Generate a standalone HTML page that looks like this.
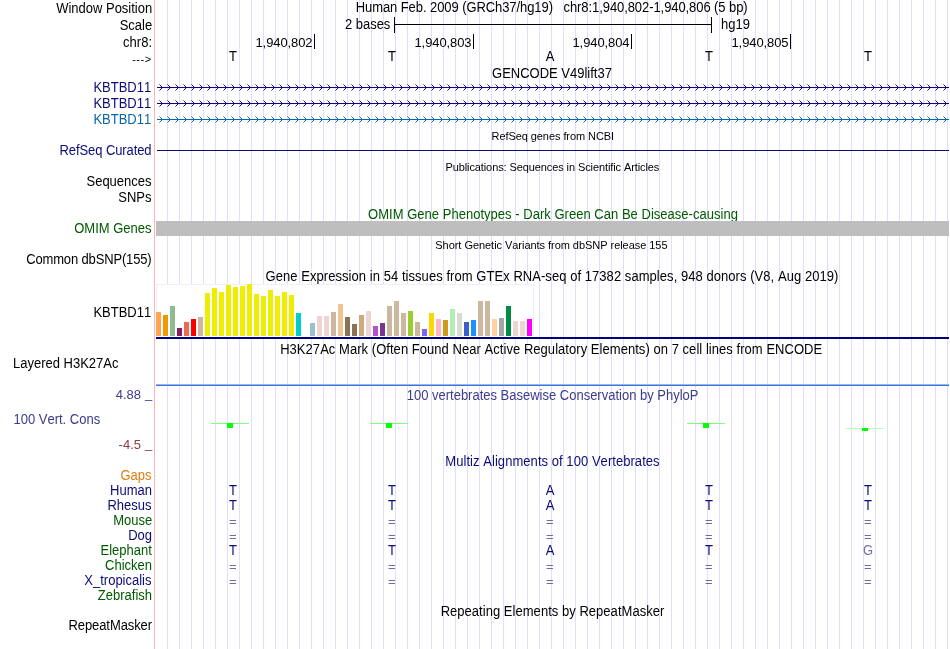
<!DOCTYPE html>
<html><head><meta charset="utf-8"><title>UCSC Genome Browser chr8:1,940,802-1,940,806</title>
<style>html,body{margin:0;padding:0;background:#fff;overflow:hidden}svg{display:block;font-kerning:none;font-family:'Liberation Sans', sans-serif}</style>
</head><body>
<svg width="950" height="649" viewBox="0 0 950 649">
<rect width="950" height="649" fill="#fff"/>
<g shape-rendering="crispEdges">
<rect x="167" y="0" width="1" height="649" fill="#dedeff"/>
<rect x="179" y="0" width="1" height="649" fill="#dedeff"/>
<rect x="191" y="0" width="1" height="649" fill="#dedeff"/>
<rect x="203" y="0" width="1" height="649" fill="#dedeff"/>
<rect x="215" y="0" width="1" height="649" fill="#dedeff"/>
<rect x="227" y="0" width="1" height="649" fill="#dedeff"/>
<rect x="239" y="0" width="1" height="649" fill="#dedeff"/>
<rect x="251" y="0" width="1" height="649" fill="#dedeff"/>
<rect x="263" y="0" width="1" height="649" fill="#dedeff"/>
<rect x="275" y="0" width="1" height="649" fill="#dedeff"/>
<rect x="287" y="0" width="1" height="649" fill="#dedeff"/>
<rect x="299" y="0" width="1" height="649" fill="#dedeff"/>
<rect x="311" y="0" width="1" height="649" fill="#dedeff"/>
<rect x="323" y="0" width="1" height="649" fill="#dedeff"/>
<rect x="335" y="0" width="1" height="649" fill="#dedeff"/>
<rect x="347" y="0" width="1" height="649" fill="#dedeff"/>
<rect x="359" y="0" width="1" height="649" fill="#dedeff"/>
<rect x="371" y="0" width="1" height="649" fill="#dedeff"/>
<rect x="383" y="0" width="1" height="649" fill="#dedeff"/>
<rect x="395" y="0" width="1" height="649" fill="#dedeff"/>
<rect x="407" y="0" width="1" height="649" fill="#dedeff"/>
<rect x="419" y="0" width="1" height="649" fill="#dedeff"/>
<rect x="431" y="0" width="1" height="649" fill="#dedeff"/>
<rect x="443" y="0" width="1" height="649" fill="#dedeff"/>
<rect x="455" y="0" width="1" height="649" fill="#dedeff"/>
<rect x="467" y="0" width="1" height="649" fill="#dedeff"/>
<rect x="479" y="0" width="1" height="649" fill="#dedeff"/>
<rect x="491" y="0" width="1" height="649" fill="#dedeff"/>
<rect x="503" y="0" width="1" height="649" fill="#dedeff"/>
<rect x="515" y="0" width="1" height="649" fill="#dedeff"/>
<rect x="527" y="0" width="1" height="649" fill="#dedeff"/>
<rect x="539" y="0" width="1" height="649" fill="#dedeff"/>
<rect x="551" y="0" width="1" height="649" fill="#dedeff"/>
<rect x="563" y="0" width="1" height="649" fill="#dedeff"/>
<rect x="575" y="0" width="1" height="649" fill="#dedeff"/>
<rect x="587" y="0" width="1" height="649" fill="#dedeff"/>
<rect x="599" y="0" width="1" height="649" fill="#dedeff"/>
<rect x="611" y="0" width="1" height="649" fill="#dedeff"/>
<rect x="623" y="0" width="1" height="649" fill="#dedeff"/>
<rect x="635" y="0" width="1" height="649" fill="#dedeff"/>
<rect x="647" y="0" width="1" height="649" fill="#dedeff"/>
<rect x="659" y="0" width="1" height="649" fill="#dedeff"/>
<rect x="671" y="0" width="1" height="649" fill="#dedeff"/>
<rect x="683" y="0" width="1" height="649" fill="#dedeff"/>
<rect x="695" y="0" width="1" height="649" fill="#dedeff"/>
<rect x="707" y="0" width="1" height="649" fill="#dedeff"/>
<rect x="719" y="0" width="1" height="649" fill="#dedeff"/>
<rect x="731" y="0" width="1" height="649" fill="#dedeff"/>
<rect x="743" y="0" width="1" height="649" fill="#dedeff"/>
<rect x="755" y="0" width="1" height="649" fill="#dedeff"/>
<rect x="767" y="0" width="1" height="649" fill="#dedeff"/>
<rect x="779" y="0" width="1" height="649" fill="#dedeff"/>
<rect x="791" y="0" width="1" height="649" fill="#dedeff"/>
<rect x="803" y="0" width="1" height="649" fill="#dedeff"/>
<rect x="815" y="0" width="1" height="649" fill="#dedeff"/>
<rect x="827" y="0" width="1" height="649" fill="#dedeff"/>
<rect x="839" y="0" width="1" height="649" fill="#dedeff"/>
<rect x="851" y="0" width="1" height="649" fill="#dedeff"/>
<rect x="863" y="0" width="1" height="649" fill="#dedeff"/>
<rect x="875" y="0" width="1" height="649" fill="#dedeff"/>
<rect x="887" y="0" width="1" height="649" fill="#dedeff"/>
<rect x="899" y="0" width="1" height="649" fill="#dedeff"/>
<rect x="911" y="0" width="1" height="649" fill="#dedeff"/>
<rect x="923" y="0" width="1" height="649" fill="#dedeff"/>
<rect x="935" y="0" width="1" height="649" fill="#dedeff"/>
<rect x="947" y="0" width="1" height="649" fill="#dedeff"/>
<rect x="154" y="0" width="1" height="649" fill="#ffb4b4"/>
</g>
<text transform="translate(152.2 13) scale(1 1.07)" font-size="13" text-anchor="end" fill="#000">Window Position</text>
<text transform="translate(152.2 29.5) scale(1 1.07)" font-size="13" text-anchor="end" fill="#000">Scale</text>
<text transform="translate(152 47) scale(1 1.07)" font-size="13" text-anchor="end" fill="#000">chr8:</text>
<text transform="translate(151.6 62.9) scale(1 1.0)" font-size="11" text-anchor="end" fill="#000" letter-spacing="0.500">---&gt;</text>
<text transform="translate(355.7 11.5) scale(1 1.07)" font-size="13" text-anchor="start" fill="#000" style="white-space:pre" textLength="392">Human Feb. 2009 (GRCh37/hg19)   chr8:1,940,802-1,940,806 (5 bp)</text>
<text transform="translate(390.3 29) scale(1 1.07)" font-size="13" text-anchor="end" fill="#000" letter-spacing="-0.043">2 bases</text>
<text transform="translate(721 29) scale(1 1.07)" font-size="13" text-anchor="start" fill="#000">hg19</text>
<g shape-rendering="crispEdges" fill="#000">
<rect x="394" y="24" width="318" height="1" fill="#000"/>
<rect x="394" y="17" width="1" height="16" fill="#000"/>
<rect x="711" y="17" width="1" height="16" fill="#000"/>
<rect x="314" y="34" width="1" height="15" fill="#000"/>
<rect x="473" y="34" width="1" height="15" fill="#000"/>
<rect x="631" y="34" width="1" height="15" fill="#000"/>
<rect x="790" y="34" width="1" height="15" fill="#000"/>
</g>
<text transform="translate(312.5 47.3) scale(1 0.95)" font-size="13" text-anchor="end" fill="#000" letter-spacing="-0.078">1,940,802</text>
<text transform="translate(471.5 47.3) scale(1 0.95)" font-size="13" text-anchor="end" fill="#000" letter-spacing="-0.078">1,940,803</text>
<text transform="translate(629.5 47.3) scale(1 0.95)" font-size="13" text-anchor="end" fill="#000" letter-spacing="-0.078">1,940,804</text>
<text transform="translate(788.5 47.3) scale(1 0.95)" font-size="13" text-anchor="end" fill="#000" letter-spacing="-0.078">1,940,805</text>
<text transform="translate(233 61) scale(1 1.07)" font-size="13" text-anchor="middle" fill="#000">T</text>
<text transform="translate(392 61) scale(1 1.07)" font-size="13" text-anchor="middle" fill="#000">T</text>
<text transform="translate(550 61) scale(1 1.07)" font-size="13" text-anchor="middle" fill="#000">A</text>
<text transform="translate(709 61) scale(1 1.07)" font-size="13" text-anchor="middle" fill="#000">T</text>
<text transform="translate(868 61) scale(1 1.07)" font-size="13" text-anchor="middle" fill="#000">T</text>
<text transform="translate(552 77.7) scale(1 1.07)" font-size="13" text-anchor="middle" fill="#000">GENCODE V49lift37</text>
<text transform="translate(151.2 92) scale(1 1.07)" font-size="13" text-anchor="end" fill="#0c0c78">KBTBD11</text>
<g stroke="#0c0c78" fill="none" stroke-width="1">
<path d="M157 87.5H949" shape-rendering="crispEdges"/>
<path d="M159.5 84.5L162.5 87.5L159.5 90.5M167.5 84.5L170.5 87.5L167.5 90.5M175.5 84.5L178.5 87.5L175.5 90.5M183.5 84.5L186.5 87.5L183.5 90.5M191.5 84.5L194.5 87.5L191.5 90.5M199.5 84.5L202.5 87.5L199.5 90.5M207.5 84.5L210.5 87.5L207.5 90.5M215.5 84.5L218.5 87.5L215.5 90.5M223.5 84.5L226.5 87.5L223.5 90.5M231.5 84.5L234.5 87.5L231.5 90.5M239.5 84.5L242.5 87.5L239.5 90.5M247.5 84.5L250.5 87.5L247.5 90.5M255.5 84.5L258.5 87.5L255.5 90.5M263.5 84.5L266.5 87.5L263.5 90.5M271.5 84.5L274.5 87.5L271.5 90.5M279.5 84.5L282.5 87.5L279.5 90.5M287.5 84.5L290.5 87.5L287.5 90.5M295.5 84.5L298.5 87.5L295.5 90.5M303.5 84.5L306.5 87.5L303.5 90.5M311.5 84.5L314.5 87.5L311.5 90.5M319.5 84.5L322.5 87.5L319.5 90.5M327.5 84.5L330.5 87.5L327.5 90.5M335.5 84.5L338.5 87.5L335.5 90.5M343.5 84.5L346.5 87.5L343.5 90.5M351.5 84.5L354.5 87.5L351.5 90.5M359.5 84.5L362.5 87.5L359.5 90.5M367.5 84.5L370.5 87.5L367.5 90.5M375.5 84.5L378.5 87.5L375.5 90.5M383.5 84.5L386.5 87.5L383.5 90.5M391.5 84.5L394.5 87.5L391.5 90.5M399.5 84.5L402.5 87.5L399.5 90.5M407.5 84.5L410.5 87.5L407.5 90.5M415.5 84.5L418.5 87.5L415.5 90.5M423.5 84.5L426.5 87.5L423.5 90.5M431.5 84.5L434.5 87.5L431.5 90.5M439.5 84.5L442.5 87.5L439.5 90.5M447.5 84.5L450.5 87.5L447.5 90.5M455.5 84.5L458.5 87.5L455.5 90.5M463.5 84.5L466.5 87.5L463.5 90.5M471.5 84.5L474.5 87.5L471.5 90.5M479.5 84.5L482.5 87.5L479.5 90.5M487.5 84.5L490.5 87.5L487.5 90.5M495.5 84.5L498.5 87.5L495.5 90.5M503.5 84.5L506.5 87.5L503.5 90.5M511.5 84.5L514.5 87.5L511.5 90.5M519.5 84.5L522.5 87.5L519.5 90.5M527.5 84.5L530.5 87.5L527.5 90.5M535.5 84.5L538.5 87.5L535.5 90.5M543.5 84.5L546.5 87.5L543.5 90.5M551.5 84.5L554.5 87.5L551.5 90.5M559.5 84.5L562.5 87.5L559.5 90.5M567.5 84.5L570.5 87.5L567.5 90.5M575.5 84.5L578.5 87.5L575.5 90.5M583.5 84.5L586.5 87.5L583.5 90.5M591.5 84.5L594.5 87.5L591.5 90.5M599.5 84.5L602.5 87.5L599.5 90.5M607.5 84.5L610.5 87.5L607.5 90.5M615.5 84.5L618.5 87.5L615.5 90.5M623.5 84.5L626.5 87.5L623.5 90.5M631.5 84.5L634.5 87.5L631.5 90.5M639.5 84.5L642.5 87.5L639.5 90.5M647.5 84.5L650.5 87.5L647.5 90.5M655.5 84.5L658.5 87.5L655.5 90.5M663.5 84.5L666.5 87.5L663.5 90.5M671.5 84.5L674.5 87.5L671.5 90.5M679.5 84.5L682.5 87.5L679.5 90.5M687.5 84.5L690.5 87.5L687.5 90.5M695.5 84.5L698.5 87.5L695.5 90.5M703.5 84.5L706.5 87.5L703.5 90.5M711.5 84.5L714.5 87.5L711.5 90.5M719.5 84.5L722.5 87.5L719.5 90.5M727.5 84.5L730.5 87.5L727.5 90.5M735.5 84.5L738.5 87.5L735.5 90.5M743.5 84.5L746.5 87.5L743.5 90.5M751.5 84.5L754.5 87.5L751.5 90.5M759.5 84.5L762.5 87.5L759.5 90.5M767.5 84.5L770.5 87.5L767.5 90.5M775.5 84.5L778.5 87.5L775.5 90.5M783.5 84.5L786.5 87.5L783.5 90.5M791.5 84.5L794.5 87.5L791.5 90.5M799.5 84.5L802.5 87.5L799.5 90.5M807.5 84.5L810.5 87.5L807.5 90.5M815.5 84.5L818.5 87.5L815.5 90.5M823.5 84.5L826.5 87.5L823.5 90.5M831.5 84.5L834.5 87.5L831.5 90.5M839.5 84.5L842.5 87.5L839.5 90.5M847.5 84.5L850.5 87.5L847.5 90.5M855.5 84.5L858.5 87.5L855.5 90.5M863.5 84.5L866.5 87.5L863.5 90.5M871.5 84.5L874.5 87.5L871.5 90.5M879.5 84.5L882.5 87.5L879.5 90.5M887.5 84.5L890.5 87.5L887.5 90.5M895.5 84.5L898.5 87.5L895.5 90.5M903.5 84.5L906.5 87.5L903.5 90.5M911.5 84.5L914.5 87.5L911.5 90.5M919.5 84.5L922.5 87.5L919.5 90.5M927.5 84.5L930.5 87.5L927.5 90.5M935.5 84.5L938.5 87.5L935.5 90.5M943.5 84.5L946.5 87.5L943.5 90.5"/>
</g>
<text transform="translate(151.2 108) scale(1 1.07)" font-size="13" text-anchor="end" fill="#0c0c78">KBTBD11</text>
<g stroke="#0c0c78" fill="none" stroke-width="1">
<path d="M157 103.5H949" shape-rendering="crispEdges"/>
<path d="M159.5 100.5L162.5 103.5L159.5 106.5M167.5 100.5L170.5 103.5L167.5 106.5M175.5 100.5L178.5 103.5L175.5 106.5M183.5 100.5L186.5 103.5L183.5 106.5M191.5 100.5L194.5 103.5L191.5 106.5M199.5 100.5L202.5 103.5L199.5 106.5M207.5 100.5L210.5 103.5L207.5 106.5M215.5 100.5L218.5 103.5L215.5 106.5M223.5 100.5L226.5 103.5L223.5 106.5M231.5 100.5L234.5 103.5L231.5 106.5M239.5 100.5L242.5 103.5L239.5 106.5M247.5 100.5L250.5 103.5L247.5 106.5M255.5 100.5L258.5 103.5L255.5 106.5M263.5 100.5L266.5 103.5L263.5 106.5M271.5 100.5L274.5 103.5L271.5 106.5M279.5 100.5L282.5 103.5L279.5 106.5M287.5 100.5L290.5 103.5L287.5 106.5M295.5 100.5L298.5 103.5L295.5 106.5M303.5 100.5L306.5 103.5L303.5 106.5M311.5 100.5L314.5 103.5L311.5 106.5M319.5 100.5L322.5 103.5L319.5 106.5M327.5 100.5L330.5 103.5L327.5 106.5M335.5 100.5L338.5 103.5L335.5 106.5M343.5 100.5L346.5 103.5L343.5 106.5M351.5 100.5L354.5 103.5L351.5 106.5M359.5 100.5L362.5 103.5L359.5 106.5M367.5 100.5L370.5 103.5L367.5 106.5M375.5 100.5L378.5 103.5L375.5 106.5M383.5 100.5L386.5 103.5L383.5 106.5M391.5 100.5L394.5 103.5L391.5 106.5M399.5 100.5L402.5 103.5L399.5 106.5M407.5 100.5L410.5 103.5L407.5 106.5M415.5 100.5L418.5 103.5L415.5 106.5M423.5 100.5L426.5 103.5L423.5 106.5M431.5 100.5L434.5 103.5L431.5 106.5M439.5 100.5L442.5 103.5L439.5 106.5M447.5 100.5L450.5 103.5L447.5 106.5M455.5 100.5L458.5 103.5L455.5 106.5M463.5 100.5L466.5 103.5L463.5 106.5M471.5 100.5L474.5 103.5L471.5 106.5M479.5 100.5L482.5 103.5L479.5 106.5M487.5 100.5L490.5 103.5L487.5 106.5M495.5 100.5L498.5 103.5L495.5 106.5M503.5 100.5L506.5 103.5L503.5 106.5M511.5 100.5L514.5 103.5L511.5 106.5M519.5 100.5L522.5 103.5L519.5 106.5M527.5 100.5L530.5 103.5L527.5 106.5M535.5 100.5L538.5 103.5L535.5 106.5M543.5 100.5L546.5 103.5L543.5 106.5M551.5 100.5L554.5 103.5L551.5 106.5M559.5 100.5L562.5 103.5L559.5 106.5M567.5 100.5L570.5 103.5L567.5 106.5M575.5 100.5L578.5 103.5L575.5 106.5M583.5 100.5L586.5 103.5L583.5 106.5M591.5 100.5L594.5 103.5L591.5 106.5M599.5 100.5L602.5 103.5L599.5 106.5M607.5 100.5L610.5 103.5L607.5 106.5M615.5 100.5L618.5 103.5L615.5 106.5M623.5 100.5L626.5 103.5L623.5 106.5M631.5 100.5L634.5 103.5L631.5 106.5M639.5 100.5L642.5 103.5L639.5 106.5M647.5 100.5L650.5 103.5L647.5 106.5M655.5 100.5L658.5 103.5L655.5 106.5M663.5 100.5L666.5 103.5L663.5 106.5M671.5 100.5L674.5 103.5L671.5 106.5M679.5 100.5L682.5 103.5L679.5 106.5M687.5 100.5L690.5 103.5L687.5 106.5M695.5 100.5L698.5 103.5L695.5 106.5M703.5 100.5L706.5 103.5L703.5 106.5M711.5 100.5L714.5 103.5L711.5 106.5M719.5 100.5L722.5 103.5L719.5 106.5M727.5 100.5L730.5 103.5L727.5 106.5M735.5 100.5L738.5 103.5L735.5 106.5M743.5 100.5L746.5 103.5L743.5 106.5M751.5 100.5L754.5 103.5L751.5 106.5M759.5 100.5L762.5 103.5L759.5 106.5M767.5 100.5L770.5 103.5L767.5 106.5M775.5 100.5L778.5 103.5L775.5 106.5M783.5 100.5L786.5 103.5L783.5 106.5M791.5 100.5L794.5 103.5L791.5 106.5M799.5 100.5L802.5 103.5L799.5 106.5M807.5 100.5L810.5 103.5L807.5 106.5M815.5 100.5L818.5 103.5L815.5 106.5M823.5 100.5L826.5 103.5L823.5 106.5M831.5 100.5L834.5 103.5L831.5 106.5M839.5 100.5L842.5 103.5L839.5 106.5M847.5 100.5L850.5 103.5L847.5 106.5M855.5 100.5L858.5 103.5L855.5 106.5M863.5 100.5L866.5 103.5L863.5 106.5M871.5 100.5L874.5 103.5L871.5 106.5M879.5 100.5L882.5 103.5L879.5 106.5M887.5 100.5L890.5 103.5L887.5 106.5M895.5 100.5L898.5 103.5L895.5 106.5M903.5 100.5L906.5 103.5L903.5 106.5M911.5 100.5L914.5 103.5L911.5 106.5M919.5 100.5L922.5 103.5L919.5 106.5M927.5 100.5L930.5 103.5L927.5 106.5M935.5 100.5L938.5 103.5L935.5 106.5M943.5 100.5L946.5 103.5L943.5 106.5"/>
</g>
<text transform="translate(151.2 124) scale(1 1.07)" font-size="13" text-anchor="end" fill="#0a64aa">KBTBD11</text>
<g stroke="#0a64aa" fill="none" stroke-width="1">
<path d="M157 119.5H949" shape-rendering="crispEdges"/>
<path d="M159.5 116.5L162.5 119.5L159.5 122.5M167.5 116.5L170.5 119.5L167.5 122.5M175.5 116.5L178.5 119.5L175.5 122.5M183.5 116.5L186.5 119.5L183.5 122.5M191.5 116.5L194.5 119.5L191.5 122.5M199.5 116.5L202.5 119.5L199.5 122.5M207.5 116.5L210.5 119.5L207.5 122.5M215.5 116.5L218.5 119.5L215.5 122.5M223.5 116.5L226.5 119.5L223.5 122.5M231.5 116.5L234.5 119.5L231.5 122.5M239.5 116.5L242.5 119.5L239.5 122.5M247.5 116.5L250.5 119.5L247.5 122.5M255.5 116.5L258.5 119.5L255.5 122.5M263.5 116.5L266.5 119.5L263.5 122.5M271.5 116.5L274.5 119.5L271.5 122.5M279.5 116.5L282.5 119.5L279.5 122.5M287.5 116.5L290.5 119.5L287.5 122.5M295.5 116.5L298.5 119.5L295.5 122.5M303.5 116.5L306.5 119.5L303.5 122.5M311.5 116.5L314.5 119.5L311.5 122.5M319.5 116.5L322.5 119.5L319.5 122.5M327.5 116.5L330.5 119.5L327.5 122.5M335.5 116.5L338.5 119.5L335.5 122.5M343.5 116.5L346.5 119.5L343.5 122.5M351.5 116.5L354.5 119.5L351.5 122.5M359.5 116.5L362.5 119.5L359.5 122.5M367.5 116.5L370.5 119.5L367.5 122.5M375.5 116.5L378.5 119.5L375.5 122.5M383.5 116.5L386.5 119.5L383.5 122.5M391.5 116.5L394.5 119.5L391.5 122.5M399.5 116.5L402.5 119.5L399.5 122.5M407.5 116.5L410.5 119.5L407.5 122.5M415.5 116.5L418.5 119.5L415.5 122.5M423.5 116.5L426.5 119.5L423.5 122.5M431.5 116.5L434.5 119.5L431.5 122.5M439.5 116.5L442.5 119.5L439.5 122.5M447.5 116.5L450.5 119.5L447.5 122.5M455.5 116.5L458.5 119.5L455.5 122.5M463.5 116.5L466.5 119.5L463.5 122.5M471.5 116.5L474.5 119.5L471.5 122.5M479.5 116.5L482.5 119.5L479.5 122.5M487.5 116.5L490.5 119.5L487.5 122.5M495.5 116.5L498.5 119.5L495.5 122.5M503.5 116.5L506.5 119.5L503.5 122.5M511.5 116.5L514.5 119.5L511.5 122.5M519.5 116.5L522.5 119.5L519.5 122.5M527.5 116.5L530.5 119.5L527.5 122.5M535.5 116.5L538.5 119.5L535.5 122.5M543.5 116.5L546.5 119.5L543.5 122.5M551.5 116.5L554.5 119.5L551.5 122.5M559.5 116.5L562.5 119.5L559.5 122.5M567.5 116.5L570.5 119.5L567.5 122.5M575.5 116.5L578.5 119.5L575.5 122.5M583.5 116.5L586.5 119.5L583.5 122.5M591.5 116.5L594.5 119.5L591.5 122.5M599.5 116.5L602.5 119.5L599.5 122.5M607.5 116.5L610.5 119.5L607.5 122.5M615.5 116.5L618.5 119.5L615.5 122.5M623.5 116.5L626.5 119.5L623.5 122.5M631.5 116.5L634.5 119.5L631.5 122.5M639.5 116.5L642.5 119.5L639.5 122.5M647.5 116.5L650.5 119.5L647.5 122.5M655.5 116.5L658.5 119.5L655.5 122.5M663.5 116.5L666.5 119.5L663.5 122.5M671.5 116.5L674.5 119.5L671.5 122.5M679.5 116.5L682.5 119.5L679.5 122.5M687.5 116.5L690.5 119.5L687.5 122.5M695.5 116.5L698.5 119.5L695.5 122.5M703.5 116.5L706.5 119.5L703.5 122.5M711.5 116.5L714.5 119.5L711.5 122.5M719.5 116.5L722.5 119.5L719.5 122.5M727.5 116.5L730.5 119.5L727.5 122.5M735.5 116.5L738.5 119.5L735.5 122.5M743.5 116.5L746.5 119.5L743.5 122.5M751.5 116.5L754.5 119.5L751.5 122.5M759.5 116.5L762.5 119.5L759.5 122.5M767.5 116.5L770.5 119.5L767.5 122.5M775.5 116.5L778.5 119.5L775.5 122.5M783.5 116.5L786.5 119.5L783.5 122.5M791.5 116.5L794.5 119.5L791.5 122.5M799.5 116.5L802.5 119.5L799.5 122.5M807.5 116.5L810.5 119.5L807.5 122.5M815.5 116.5L818.5 119.5L815.5 122.5M823.5 116.5L826.5 119.5L823.5 122.5M831.5 116.5L834.5 119.5L831.5 122.5M839.5 116.5L842.5 119.5L839.5 122.5M847.5 116.5L850.5 119.5L847.5 122.5M855.5 116.5L858.5 119.5L855.5 122.5M863.5 116.5L866.5 119.5L863.5 122.5M871.5 116.5L874.5 119.5L871.5 122.5M879.5 116.5L882.5 119.5L879.5 122.5M887.5 116.5L890.5 119.5L887.5 122.5M895.5 116.5L898.5 119.5L895.5 122.5M903.5 116.5L906.5 119.5L903.5 122.5M911.5 116.5L914.5 119.5L911.5 122.5M919.5 116.5L922.5 119.5L919.5 122.5M927.5 116.5L930.5 119.5L927.5 122.5M935.5 116.5L938.5 119.5L935.5 122.5M943.5 116.5L946.5 119.5L943.5 122.5"/>
</g>
<text transform="translate(552.8 140) scale(1 1.07)" font-size="11" text-anchor="middle" fill="#000" letter-spacing="-0.064">RefSeq genes from NCBI</text>
<text transform="translate(151.5 155) scale(1 1.07)" font-size="13" text-anchor="end" fill="#0c0c78" letter-spacing="-0.086">RefSeq Curated</text>
<rect x="157" y="150" width="792" height="1" fill="#0c0c78" shape-rendering="crispEdges"/>
<text transform="translate(552.3 171) scale(1 1.07)" font-size="11" text-anchor="middle" fill="#000" letter-spacing="-0.091">Publications: Sequences in Scientific Articles</text>
<text transform="translate(151.5 186) scale(1 1.07)" font-size="13" text-anchor="end" fill="#000">Sequences</text>
<text transform="translate(151.5 202) scale(1 1.07)" font-size="13" text-anchor="end" fill="#000">SNPs</text>
<text transform="translate(553 219) scale(1 1.07)" font-size="13" text-anchor="middle" fill="#005a00" letter-spacing="0.030">OMIM Gene Phenotypes - Dark Green Can Be Disease-causing</text>
<text transform="translate(151.5 233) scale(1 1.07)" font-size="13" text-anchor="end" fill="#005a00">OMIM Genes</text>
<rect x="156" y="221" width="793" height="15" fill="#bebebe" shape-rendering="crispEdges"/>
<text transform="translate(551.4 249) scale(1 1.07)" font-size="11" text-anchor="middle" fill="#000" letter-spacing="-0.036">Short Genetic Variants from dbSNP release 155</text>
<text transform="translate(151.5 264) scale(1 1.07)" font-size="13" text-anchor="end" fill="#000" letter-spacing="-0.147">Common dbSNP(155)</text>
<text transform="translate(552 281) scale(1 1.07)" font-size="13" text-anchor="middle" fill="#000" letter-spacing="0.058">Gene Expression in 54 tissues from GTEx RNA-seq of 17382 samples, 948 donors (V8, Aug 2019)</text>
<text transform="translate(151.2 317) scale(1 1.07)" font-size="13" text-anchor="end" fill="#000">KBTBD11</text>
<g shape-rendering="crispEdges">
<rect x="156" y="284" width="378" height="53" fill="#fff"/>
<rect x="156" y="284" width="378" height="1" fill="#f0f0f0"/>
<rect x="156" y="284" width="1" height="52" fill="#f0f0f0"/>
<rect x="533" y="284" width="1" height="52" fill="#f0f0f0"/>
<rect x="156" y="312" width="5" height="24" fill="#ffa54f"/>
<rect x="163" y="315" width="5" height="21" fill="#ee9a00"/>
<rect x="170" y="306" width="5" height="30" fill="#8fbc8f"/>
<rect x="177" y="328" width="5" height="8" fill="#8b1c62"/>
<rect x="184" y="322" width="5" height="14" fill="#ee6a50"/>
<rect x="191" y="319" width="5" height="17" fill="#ff0000"/>
<rect x="198" y="317" width="5" height="19" fill="#cdb79e"/>
<rect x="205" y="293" width="5" height="43" fill="#eeee00"/>
<rect x="212" y="288" width="5" height="48" fill="#eeee00"/>
<rect x="219" y="292" width="5" height="44" fill="#eeee00"/>
<rect x="226" y="285" width="5" height="51" fill="#eeee00"/>
<rect x="233" y="287" width="5" height="49" fill="#eeee00"/>
<rect x="240" y="286" width="5" height="50" fill="#eeee00"/>
<rect x="247" y="284" width="5" height="52" fill="#eeee00"/>
<rect x="254" y="294" width="5" height="42" fill="#eeee00"/>
<rect x="261" y="296" width="5" height="40" fill="#eeee00"/>
<rect x="268" y="290" width="5" height="46" fill="#eeee00"/>
<rect x="275" y="296" width="5" height="40" fill="#eeee00"/>
<rect x="282" y="292" width="5" height="44" fill="#eeee00"/>
<rect x="289" y="295" width="5" height="41" fill="#eeee00"/>
<rect x="296" y="313" width="5" height="23" fill="#00cdcd"/>
<rect x="310" y="323" width="5" height="13" fill="#9ac0cd"/>
<rect x="317" y="316" width="5" height="20" fill="#eed5d2"/>
<rect x="324" y="316" width="5" height="20" fill="#eed5d2"/>
<rect x="331" y="312" width="5" height="24" fill="#cdb79e"/>
<rect x="338" y="304" width="5" height="32" fill="#eec591"/>
<rect x="345" y="317" width="5" height="19" fill="#8b7355"/>
<rect x="352" y="324" width="5" height="12" fill="#8b7355"/>
<rect x="359" y="315" width="5" height="21" fill="#cdaa7d"/>
<rect x="366" y="311" width="5" height="25" fill="#eed5d2"/>
<rect x="373" y="326" width="5" height="10" fill="#b452cd"/>
<rect x="380" y="323" width="5" height="13" fill="#7a378b"/>
<rect x="387" y="306" width="5" height="30" fill="#cdb79e"/>
<rect x="394" y="301" width="5" height="35" fill="#cdb79e"/>
<rect x="401" y="313" width="5" height="23" fill="#cdb79e"/>
<rect x="408" y="311" width="5" height="25" fill="#9acd32"/>
<rect x="415" y="322" width="5" height="14" fill="#cdb79e"/>
<rect x="422" y="329" width="5" height="7" fill="#7a67ee"/>
<rect x="429" y="313" width="5" height="23" fill="#ffd700"/>
<rect x="436" y="319" width="5" height="17" fill="#ffb6c1"/>
<rect x="443" y="320" width="5" height="16" fill="#cd9b1d"/>
<rect x="450" y="309" width="5" height="27" fill="#b4eeb4"/>
<rect x="457" y="313" width="5" height="23" fill="#d9d9d9"/>
<rect x="464" y="322" width="5" height="14" fill="#3a5fcd"/>
<rect x="471" y="320" width="5" height="16" fill="#1e90ff"/>
<rect x="478" y="301" width="5" height="35" fill="#cdb79e"/>
<rect x="485" y="301" width="5" height="35" fill="#cdb79e"/>
<rect x="492" y="319" width="5" height="17" fill="#ffd39b"/>
<rect x="499" y="318" width="5" height="18" fill="#a6a6a6"/>
<rect x="506" y="306" width="5" height="30" fill="#008b45"/>
<rect x="513" y="321" width="5" height="15" fill="#eed5d2"/>
<rect x="520" y="321" width="5" height="15" fill="#eed5d2"/>
<rect x="527" y="319" width="5" height="17" fill="#ff00ff"/>
<rect x="156" y="337" width="793" height="2" fill="#000080"/>
</g>
<text transform="translate(551.2 354) scale(1 1.07)" font-size="13" text-anchor="middle" fill="#000" letter-spacing="0.049">H3K27Ac Mark (Often Found Near Active Regulatory Elements) on 7 cell lines from ENCODE</text>
<text transform="translate(13 368) scale(1 1.07)" font-size="13" text-anchor="start" fill="#000">Layered H3K27Ac</text>
<rect x="156" y="384" width="793" height="1" fill="#66ccfa" shape-rendering="crispEdges"/>
<rect x="156" y="385" width="793" height="1" fill="#6c5ccc" shape-rendering="crispEdges"/>
<text transform="translate(552.6 400) scale(1 1.07)" font-size="13" text-anchor="middle" fill="#3c3c8c">100 vertebrates Basewise Conservation by PhyloP</text>
<text transform="translate(141 398.5) scale(1 0.93)" font-size="13" text-anchor="end" fill="#3c3c8c">4.88</text>
<text transform="translate(145 398.2) scale(1 1)" font-size="13" text-anchor="start" fill="#3c3c8c">_</text>
<text transform="translate(13.5 424) scale(1 1.07)" font-size="13" text-anchor="start" fill="#3c3c8c">100 Vert. Cons</text>
<text transform="translate(141 448.5) scale(1 0.93)" font-size="13" text-anchor="end" fill="#8c3c3c">-4.5</text>
<text transform="translate(145 448.2) scale(1 1)" font-size="13" text-anchor="start" fill="#8c3c3c">_</text>
<g shape-rendering="crispEdges">
<rect x="211" y="423" width="38" height="1" fill="#80ff80"/>
<rect x="227" y="423" width="6" height="5" fill="#00ff00"/>
<rect x="370" y="423" width="38" height="1" fill="#80ff80"/>
<rect x="386" y="423" width="6" height="5" fill="#00ff00"/>
<rect x="687" y="423" width="38" height="1" fill="#80ff80"/>
<rect x="703" y="423" width="6" height="5" fill="#00ff00"/>
<rect x="846" y="428" width="38" height="1" fill="#b8ffb8"/>
<rect x="862" y="428" width="6" height="3" fill="#00ff00"/>
</g>
<text transform="translate(552.5 466) scale(1 1.07)" font-size="13" text-anchor="middle" fill="#0c0c78" letter-spacing="0.056">Multiz Alignments of 100 Vertebrates</text>
<text transform="translate(151.5 480) scale(1 1.07)" font-size="13" text-anchor="end" fill="#e07c0c">Gaps</text>
<text transform="translate(152 495) scale(1 1.07)" font-size="13" text-anchor="end" fill="#0c0c78">Human</text>
<text transform="translate(233 495) scale(1 1.07)" font-size="13" text-anchor="middle" fill="#0c0c78">T</text>
<text transform="translate(392 495) scale(1 1.07)" font-size="13" text-anchor="middle" fill="#0c0c78">T</text>
<text transform="translate(550 495) scale(1 1.07)" font-size="13" text-anchor="middle" fill="#0c0c78">A</text>
<text transform="translate(709 495) scale(1 1.07)" font-size="13" text-anchor="middle" fill="#0c0c78">T</text>
<text transform="translate(868 495) scale(1 1.07)" font-size="13" text-anchor="middle" fill="#0c0c78">T</text>
<text transform="translate(151.5 510) scale(1 1.07)" font-size="13" text-anchor="end" fill="#0c0c78">Rhesus</text>
<text transform="translate(233 510) scale(1 1.07)" font-size="13" text-anchor="middle" fill="#0c0c78">T</text>
<text transform="translate(392 510) scale(1 1.07)" font-size="13" text-anchor="middle" fill="#0c0c78">T</text>
<text transform="translate(550 510) scale(1 1.07)" font-size="13" text-anchor="middle" fill="#0c0c78">A</text>
<text transform="translate(709 510) scale(1 1.07)" font-size="13" text-anchor="middle" fill="#0c0c78">T</text>
<text transform="translate(868 510) scale(1 1.07)" font-size="13" text-anchor="middle" fill="#0c0c78">T</text>
<text transform="translate(152.3 525) scale(1 1.07)" font-size="13" text-anchor="end" fill="#005a00">Mouse</text>
<text transform="translate(232.7 526) scale(1 1.0)" font-size="13" text-anchor="middle" fill="#6c6ca0">=</text>
<text transform="translate(391.7 526) scale(1 1.0)" font-size="13" text-anchor="middle" fill="#6c6ca0">=</text>
<text transform="translate(549.7 526) scale(1 1.0)" font-size="13" text-anchor="middle" fill="#6c6ca0">=</text>
<text transform="translate(708.7 526) scale(1 1.0)" font-size="13" text-anchor="middle" fill="#6c6ca0">=</text>
<text transform="translate(867.7 526) scale(1 1.0)" font-size="13" text-anchor="middle" fill="#6c6ca0">=</text>
<text transform="translate(152 540) scale(1 1.07)" font-size="13" text-anchor="end" fill="#0c0c78">Dog</text>
<text transform="translate(232.7 541) scale(1 1.0)" font-size="13" text-anchor="middle" fill="#6c6ca0">=</text>
<text transform="translate(391.7 541) scale(1 1.0)" font-size="13" text-anchor="middle" fill="#6c6ca0">=</text>
<text transform="translate(549.7 541) scale(1 1.0)" font-size="13" text-anchor="middle" fill="#6c6ca0">=</text>
<text transform="translate(708.7 541) scale(1 1.0)" font-size="13" text-anchor="middle" fill="#6c6ca0">=</text>
<text transform="translate(867.7 541) scale(1 1.0)" font-size="13" text-anchor="middle" fill="#6c6ca0">=</text>
<text transform="translate(151.8 555) scale(1 1.07)" font-size="13" text-anchor="end" fill="#005a00">Elephant</text>
<text transform="translate(233 555) scale(1 1.07)" font-size="13" text-anchor="middle" fill="#0c0c78">T</text>
<text transform="translate(392 555) scale(1 1.07)" font-size="13" text-anchor="middle" fill="#0c0c78">T</text>
<text transform="translate(550 555) scale(1 1.07)" font-size="13" text-anchor="middle" fill="#0c0c78">A</text>
<text transform="translate(709 555) scale(1 1.07)" font-size="13" text-anchor="middle" fill="#0c0c78">T</text>
<text transform="translate(868 555) scale(1 1.07)" font-size="13" text-anchor="middle" fill="#7474a4">G</text>
<text transform="translate(152 570) scale(1 1.07)" font-size="13" text-anchor="end" fill="#005a00">Chicken</text>
<text transform="translate(232.7 571) scale(1 1.0)" font-size="13" text-anchor="middle" fill="#6c6ca0">=</text>
<text transform="translate(391.7 571) scale(1 1.0)" font-size="13" text-anchor="middle" fill="#6c6ca0">=</text>
<text transform="translate(549.7 571) scale(1 1.0)" font-size="13" text-anchor="middle" fill="#6c6ca0">=</text>
<text transform="translate(708.7 571) scale(1 1.0)" font-size="13" text-anchor="middle" fill="#6c6ca0">=</text>
<text transform="translate(867.7 571) scale(1 1.0)" font-size="13" text-anchor="middle" fill="#6c6ca0">=</text>
<text transform="translate(151.5 585) scale(1 1.07)" font-size="13" text-anchor="end" fill="#0c0c78">X_tropicalis</text>
<text transform="translate(232.7 586) scale(1 1.0)" font-size="13" text-anchor="middle" fill="#6c6ca0">=</text>
<text transform="translate(391.7 586) scale(1 1.0)" font-size="13" text-anchor="middle" fill="#6c6ca0">=</text>
<text transform="translate(549.7 586) scale(1 1.0)" font-size="13" text-anchor="middle" fill="#6c6ca0">=</text>
<text transform="translate(708.7 586) scale(1 1.0)" font-size="13" text-anchor="middle" fill="#6c6ca0">=</text>
<text transform="translate(867.7 586) scale(1 1.0)" font-size="13" text-anchor="middle" fill="#6c6ca0">=</text>
<text transform="translate(152 600) scale(1 1.07)" font-size="13" text-anchor="end" fill="#005a00">Zebrafish</text>
<text transform="translate(552.5 616) scale(1 1.07)" font-size="13" text-anchor="middle" fill="#000" letter-spacing="0.038">Repeating Elements by RepeatMasker</text>
<text transform="translate(152 630) scale(1 1.07)" font-size="13" text-anchor="end" fill="#000" letter-spacing="-0.083">RepeatMasker</text>
</svg>
</body></html>
